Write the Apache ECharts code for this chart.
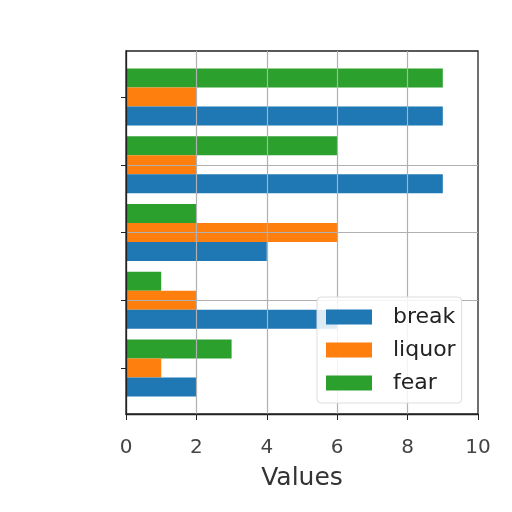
<!DOCTYPE html>
<html>
<head>
<meta charset="utf-8">
<script src="https://cdn.jsdelivr.net/npm/echarts@6/dist/echarts.min.js"></script>
<style>
  html, body { margin: 0; padding: 0; background: #fff; }
  #chart { width: 512px; height: 512px; }
</style>
</head>
<body>
<div id="chart"></div>
<script>
var seriesNames = ['break', 'liquor', 'fear'];
var groups = ['0', '1', '2', '3', '4'];
var groupIndex = [0, 1, 2, 3, 4];
var breakVals = [2, 6, 4, 9, 9];
var liquorVals = [1, 2, 6, 2, 2];
var fearVals = [3, 1, 2, 6, 9];
var xTicks = [0, 2, 4, 6, 8, 10];
var colors = ['#1f77b4', '#ff7f0e', '#2ca02c'];

// frame box and its y range (matplotlib style margins around the groups)
var boxTop = 51, boxBottom = 98, boxLeft = 126, boxRight = 34;
var yMin = -0.68, yMax = 4.68;
var pxPerUnit = (512 - boxTop - boxBottom) / (yMax - yMin);
// inner grid covers exactly the 5 category bands
var bandTop = boxTop + (yMax - 4.5) * pxPerUnit;
var bandBottom = boxBottom + (-0.5 - yMin) * pxPerUnit;

var lineStyleGrid = { color: '#b0b0b0', width: 1.2 };

var chart = echarts.init(document.getElementById('chart'));

var option = {
    animation: false,
    textStyle: { fontFamily: 'DejaVu Sans' },
    grid: [
        {
            left: boxLeft, right: boxRight, top: boxTop, bottom: boxBottom,
            show: true, borderColor: '#222', borderWidth: 1.3, backgroundColor: '#fff'
        },
        { left: boxLeft, right: boxRight, top: bandTop, bottom: bandBottom }
    ],
    legend: {
        data: seriesNames,
        z: 10,
        orient: 'vertical',
        left: 317, top: 297,
        icon: 'rect',
        itemWidth: 46, itemHeight: 15, itemGap: 11,
        padding: [9, 6, 9, 9],
        backgroundColor: 'rgba(255,255,255,0.85)',
        borderColor: '#ddd', borderWidth: 1, borderRadius: 4,
        textStyle: { fontSize: 22, lineHeight: 22, color: '#222', padding: [0, 0, 0, 16] }
    },
    xAxis: [
        {
            gridIndex: 0, type: 'value', z: 5,
            min: xTicks[0], max: xTicks[xTicks.length - 1], interval: 2,
            name: 'Values', nameLocation: 'middle', nameGap: 52,
            nameTextStyle: { fontSize: 25, color: '#333' },
            axisLine: { show: true, onZero: false, lineStyle: { color: '#222', width: 1.3 } },
            axisTick: { show: true, length: 6, lineStyle: { color: '#222' } },
            axisLabel: { fontSize: 20, color: '#444', margin: 24 },
            splitLine: { show: true, showMinLine: false, showMaxLine: false, lineStyle: lineStyleGrid }
        },
        {
            gridIndex: 1, type: 'value',
            min: xTicks[0], max: xTicks[xTicks.length - 1],
            show: false, splitLine: { show: false }
        }
    ],
    yAxis: [
        {
            gridIndex: 0, type: 'value', z: 5,
            min: yMin, max: yMax,
            axisLine: { show: true, onZero: false, lineStyle: { color: '#222', width: 1.3 } },
            axisTick: { show: true, length: 5, customValues: groupIndex, lineStyle: { color: '#222' } },
            axisLabel: { show: false },
            splitLine: { show: true, showMinLine: false, showMaxLine: false, lineStyle: lineStyleGrid }
        },
        {
            gridIndex: 1, type: 'category', data: groups,
            show: false, splitLine: { show: false }
        }
    ],
    // listed top-to-bottom reversed so "break" sits lowest in each group
    series: [
        { name: seriesNames[2], type: 'bar', z: 2, itemStyle: { color: colors[2] }, xAxisIndex: 1, yAxisIndex: 1, barWidth: 19, barGap: '0%', data: fearVals },
        { name: seriesNames[1], type: 'bar', z: 2, itemStyle: { color: colors[1] }, xAxisIndex: 1, yAxisIndex: 1, barWidth: 19, barGap: '0%', data: liquorVals },
        { name: seriesNames[0], type: 'bar', z: 2, itemStyle: { color: colors[0] }, xAxisIndex: 1, yAxisIndex: 1, barWidth: 19, barGap: '0%', data: breakVals }
    ]
};

chart.setOption(option);
</script>
</body>
</html>
